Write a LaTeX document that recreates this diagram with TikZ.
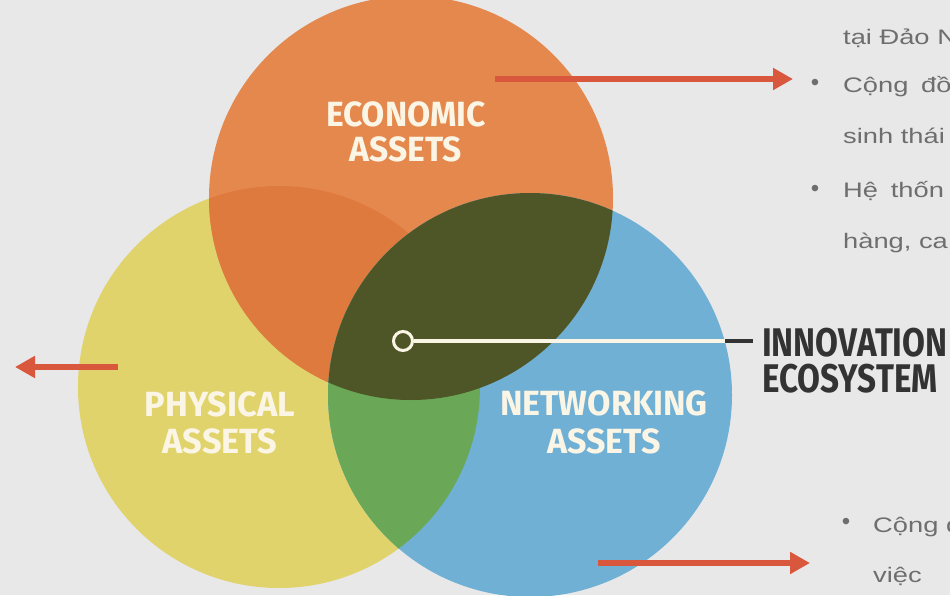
\documentclass[tikz,border=0pt]{standalone}
\usepackage{fontspec}
\setmainfont{Liberation Sans}
\newfontfamily\capfont{Fira Sans}
\usetikzlibrary{arrows.meta}
\definecolor{bgc}{HTML}{E8E8E9}
\definecolor{yellowc}{HTML}{E1D36B}
\definecolor{orangec}{HTML}{E5884D}
\definecolor{orangedk}{HTML}{DF7A3F}
\definecolor{bluec}{HTML}{70B0D4}
\definecolor{olivec}{HTML}{4E5628}
\definecolor{greenc}{HTML}{6AA757}
\definecolor{redc}{HTML}{D9573D}
\definecolor{darkc}{HTML}{333333}
\definecolor{grayc}{HTML}{6E6E6E}
\definecolor{creamc}{HTML}{FBF5E6}
\tikzset{
  assetlabel/.style={font=\capfont\bfseries\fontsize{35}{35}\selectfont, text=creamc, inner sep=0pt},
  ecolabel/.style={font=\capfont\bfseries\fontsize{40}{40}\selectfont, text=darkc, inner sep=0pt, anchor=west},
  redarrow/.style={draw=redc, line width=6pt, -{Triangle[length=20pt,width=21pt]}},
  bodytext/.style={font=\fontsize{21}{21}\selectfont, text=grayc, inner sep=0pt, anchor=base west},
  bulletmark/.style={font=\fontsize{24}{24}\selectfont, text=grayc, inner sep=0pt},
}
\newcommand{\narrowtxt}[2]{\scalebox{#1}[1]{#2}}
\newcommand{\widetxt}[1]{\scalebox{1.3}[1]{#1}}
\begin{document}
\begin{tikzpicture}[x=1pt,y=-1pt]
\useasboundingbox (0,0) rectangle (950,595);
\clip (0,0) rectangle (950,595);
\fill[bgc] (0,0) rectangle (950,595);
% circle centres
\coordinate (ce) at (411,198);
\coordinate (cp) at (279,387);
\coordinate (cn) at (530,395);
% yellow
\fill[yellowc] (cp) circle (201pt);
% orange
\fill[orangec] (ce) circle (202pt);
\begin{scope}
  \clip (cp) circle (201pt);
  \fill[orangedk] (ce) circle (202pt);
\end{scope}
% blue
\fill[bluec] (cn) circle (202pt);
\begin{scope}
  \clip (cn) circle (202pt);
  \fill[greenc] (cp) circle (201pt);
  \fill[olivec] (ce) circle (202pt);
\end{scope}
% labels
\node[assetlabel] (eco1) at (406,114) {\narrowtxt{0.96}{ECONOMIC}};
\node[assetlabel] (eco2) at (406,149) {\narrowtxt{0.96}{ASSETS}};
\node[assetlabel] (phy1) at (220,404.5) {\narrowtxt{0.98}{PHYSICAL}};
\node[assetlabel] (phy2) at (220,441) {\narrowtxt{0.98}{ASSETS}};
\node[assetlabel] (net1) at (604,403.5) {\narrowtxt{0.97}{NETWORKING}};
\node[assetlabel] (net2) at (604,441) {\narrowtxt{0.97}{ASSETS}};
% innovation hub
\node[circle, draw=creamc, line width=3pt, minimum size=19pt, inner sep=0pt] (hub) at (403,341) {};
\coordinate (hubend) at (725,341);
\coordinate (dashend) at (753,341);
\draw[creamc, line width=3.5pt] (hub.east) -- (hubend);
\draw[darkc, line width=3.5pt] (hubend) -- (dashend);
\node[ecolabel] (inno1) at (762,343) {\narrowtxt{0.83}{INNOVATION}};
\node[ecolabel] (inno2) at (762,378.5) {\narrowtxt{0.83}{ECOSYSTEM}};
% red arrows
\coordinate (a1s) at (495,79);
\coordinate (a1e) at (793,79);
\coordinate (a2s) at (118,367);
\coordinate (a2e) at (15,367);
\coordinate (a3s) at (598,563);
\coordinate (a3e) at (810,563);
\draw[redarrow] (a1s) -- (a1e);
\draw[redarrow] (a2s) -- (a2e);
\draw[redarrow] (a3s) -- (a3e);
% right texts
\node[bodytext] (t1) at (843,44) {\widetxt{tại Đảo N}};
\node[bulletmark] (b1) at (815,85) {•};
\node[bodytext] (t2) at (843,92) {\widetxt{Cộng\hspace{4pt} đồ}};
\node[bodytext] (t3) at (843,143) {\widetxt{sinh thái}};
\node[bulletmark] (b2) at (815,191) {•};
\node[bodytext] (t4) at (843,197) {\widetxt{Hệ\hspace{4pt} thốn}};
\node[bodytext] (t5) at (843,248) {\widetxt{hàng, ca}};
\node[bulletmark] (b3) at (846,524) {•};
\node[bodytext] (t6) at (873,532) {\widetxt{Cộng đ}};
\node[bodytext] (t7) at (873,582) {\widetxt{việc}};
\end{tikzpicture}
\end{document}
